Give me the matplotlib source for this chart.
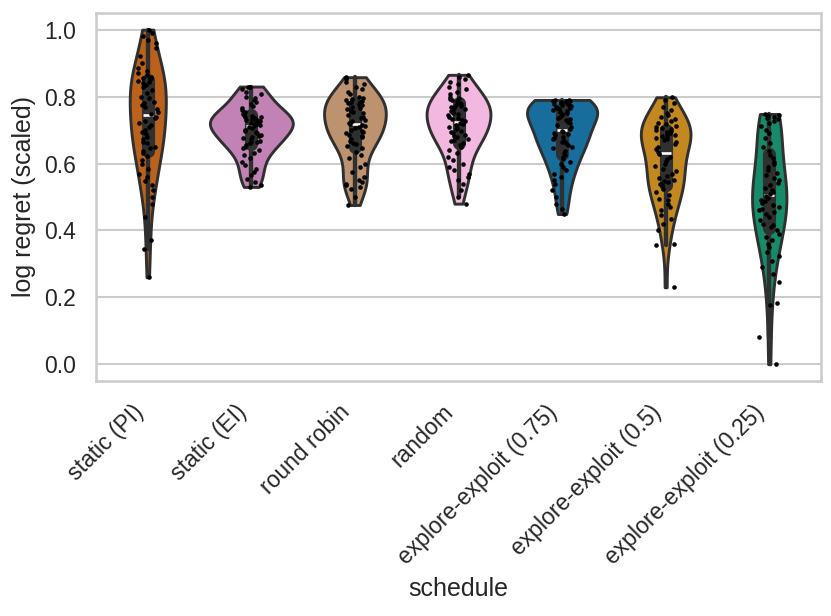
import numpy as np
import pandas as pd
import matplotlib
matplotlib.use("Agg")
import matplotlib.pyplot as plt
import seaborn as sns

categories = ["static (PI)", "static (EI)", "round robin", "random",
              "explore-exploit (0.75)", "explore-exploit (0.5)", "explore-exploit (0.25)"]

static_pi = [1.0, 0.99, 0.98, 0.97, 0.96, 0.945, 0.92, 0.90, 0.885, 0.875, 0.87, 0.865, 0.86, 0.857, 0.855, 0.852,
             0.848, 0.845, 0.84, 0.835, 0.828, 0.82, 0.81, 0.80, 0.795, 0.785, 0.78, 0.775, 0.77, 0.762, 0.755, 0.748,
             0.74, 0.735, 0.728, 0.72, 0.715, 0.71, 0.70, 0.695, 0.688, 0.68, 0.672, 0.665, 0.66, 0.65, 0.645, 0.638,
             0.632, 0.622, 0.61, 0.598, 0.585, 0.57, 0.56, 0.548, 0.535, 0.52, 0.50, 0.48, 0.44, 0.37, 0.345, 0.26]

static_ei = [0.83, 0.828, 0.822, 0.815, 0.808, 0.80, 0.795, 0.79, 0.785, 0.778, 0.772, 0.765, 0.76, 0.755, 0.75, 0.747,
             0.744, 0.742, 0.74, 0.738, 0.736, 0.734, 0.732, 0.73, 0.728, 0.726, 0.724, 0.722, 0.72, 0.718, 0.716, 0.714,
             0.711, 0.708, 0.705, 0.70, 0.697, 0.693, 0.69, 0.686, 0.682, 0.678, 0.675, 0.672, 0.668, 0.665, 0.663, 0.661,
             0.655, 0.65, 0.645, 0.64, 0.632, 0.625, 0.615, 0.605, 0.595, 0.585, 0.575, 0.565, 0.555, 0.545, 0.535, 0.53]

round_robin = [0.858, 0.852, 0.845, 0.838, 0.83, 0.822, 0.815, 0.808, 0.80, 0.796, 0.792, 0.79, 0.788, 0.785, 0.783, 0.781,
               0.778, 0.775, 0.772, 0.768, 0.765, 0.762, 0.758, 0.754, 0.75, 0.745, 0.74, 0.735, 0.73, 0.726, 0.722, 0.719,
               0.715, 0.712, 0.708, 0.705, 0.70, 0.697, 0.694, 0.69, 0.686, 0.682, 0.678, 0.672, 0.668, 0.662, 0.657, 0.652,
               0.645, 0.635, 0.625, 0.615, 0.60, 0.59, 0.575, 0.56, 0.55, 0.545, 0.54, 0.535, 0.53, 0.525, 0.50, 0.476]

random_sched = [0.865, 0.86, 0.852, 0.845, 0.838, 0.83, 0.822, 0.815, 0.808, 0.80, 0.797, 0.793, 0.79, 0.787, 0.784, 0.782,
                0.779, 0.776, 0.772, 0.768, 0.765, 0.762, 0.758, 0.755, 0.752, 0.748, 0.744, 0.74, 0.736, 0.733, 0.73, 0.727,
                0.722, 0.718, 0.714, 0.71, 0.706, 0.702, 0.698, 0.694, 0.69, 0.686, 0.682, 0.678, 0.674, 0.67, 0.666, 0.662,
                0.655, 0.648, 0.64, 0.63, 0.62, 0.61, 0.60, 0.59, 0.58, 0.57, 0.56, 0.55, 0.54, 0.52, 0.50, 0.48]

ee_075 = [0.79, 0.789, 0.788, 0.787, 0.786, 0.785, 0.783, 0.781, 0.779, 0.777, 0.775, 0.773, 0.771, 0.769, 0.767, 0.766,
          0.763, 0.76, 0.757, 0.754, 0.75, 0.747, 0.744, 0.74, 0.737, 0.733, 0.729, 0.725, 0.72, 0.715, 0.71, 0.704,
          0.698, 0.695, 0.692, 0.688, 0.684, 0.68, 0.676, 0.672, 0.668, 0.664, 0.66, 0.655, 0.65, 0.645, 0.638, 0.631,
          0.626, 0.62, 0.612, 0.605, 0.598, 0.59, 0.58, 0.57, 0.56, 0.55, 0.54, 0.52, 0.50, 0.48, 0.465, 0.449]

ee_05 = [0.798, 0.79, 0.78, 0.77, 0.76, 0.752, 0.745, 0.738, 0.732, 0.727, 0.722, 0.717, 0.712, 0.708, 0.705, 0.702,
         0.70, 0.698, 0.695, 0.692, 0.689, 0.686, 0.683, 0.68, 0.677, 0.673, 0.669, 0.664, 0.658, 0.65, 0.642, 0.633,
         0.627, 0.62, 0.614, 0.608, 0.60, 0.592, 0.585, 0.578, 0.57, 0.564, 0.558, 0.552, 0.548, 0.544, 0.54, 0.537,
         0.532, 0.525, 0.515, 0.505, 0.495, 0.49, 0.48, 0.47, 0.46, 0.445, 0.435, 0.42, 0.40, 0.36, 0.355, 0.23]

ee_025 = [0.748, 0.746, 0.744, 0.742, 0.74, 0.736, 0.732, 0.728, 0.72, 0.712, 0.70, 0.69, 0.675, 0.66, 0.648, 0.636,
          0.625, 0.615, 0.605, 0.598, 0.59, 0.58, 0.572, 0.565, 0.558, 0.55, 0.542, 0.535, 0.528, 0.52, 0.515, 0.51,
          0.503, 0.498, 0.492, 0.487, 0.482, 0.476, 0.47, 0.465, 0.46, 0.455, 0.45, 0.44, 0.43, 0.42, 0.415, 0.41,
          0.40, 0.39, 0.38, 0.37, 0.36, 0.35, 0.335, 0.325, 0.31, 0.29, 0.27, 0.246, 0.182, 0.177, 0.08, 0.0]

series = [static_pi, static_ei, round_robin, random_sched, ee_075, ee_05, ee_025]

rows = []
for cat, vals in zip(categories, series):
    for v in vals:
        rows.append((cat, v))
df = pd.DataFrame(rows, columns=["schedule", "log regret (scaled)"])

sns.set_theme(style="whitegrid")
plt.rcParams["font.family"] = ["Liberation Sans", "DejaVu Sans"]

cb = sns.color_palette("colorblind")
palette = {categories[0]: cb[3], categories[1]: cb[4], categories[2]: cb[5], categories[3]: cb[6],
           categories[4]: cb[0], categories[5]: cb[1], categories[6]: cb[2]}

fig, ax = plt.subplots(figsize=(831 / 150, 616 / 150), dpi=150)
sns.violinplot(data=df, x="schedule", y="log regret (scaled)", hue="schedule", palette=palette,
               order=categories, cut=0, inner="box", linewidth=1.4, legend=False,
               density_norm="area", common_norm=True, ax=ax)
np.random.seed(3)
sns.stripplot(data=df, x="schedule", y="log regret (scaled)", order=categories, color="black",
              size=2.2, jitter=0.1, ax=ax)

ax.set_ylim(-0.05, 1.05)
ax.set_yticks([0.0, 0.2, 0.4, 0.6, 0.8, 1.0])
plt.setp(ax.get_xticklabels(), rotation=45, ha="right")
ax.set_xlabel("schedule")
ax.set_ylabel("log regret (scaled)")

fig.subplots_adjust(left=0.1155, right=0.988, top=0.979, bottom=0.3815)
fig.savefig("out.png", dpi=150)
